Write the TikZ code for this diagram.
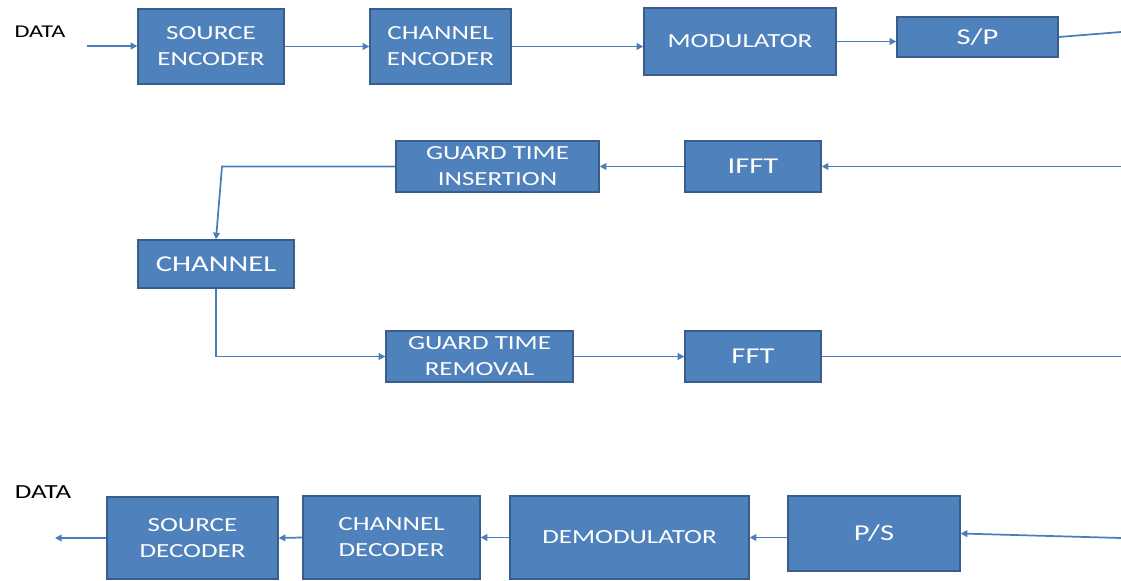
\documentclass[tikz,border=0pt]{standalone}
\usepackage{fontspec}
\setmainfont{Carlito}[FakeStretch=1.35]
\usetikzlibrary{arrows.meta}
\definecolor{boxfill}{HTML}{4F81BD}
\definecolor{boxdraw}{HTML}{385D8A}
\definecolor{wirecol}{HTML}{4A7EBB}
\newcommand\mybox[7][]{\node[blk,#1, minimum width={(#4-#2)*0.75pt}, minimum height={(#5-#3)*0.75pt}] (#6) at ({(#2+#4)/2},{(#3+#5)/2}) {#7};}
\begin{document}
\begin{tikzpicture}[x=0.75pt,y=-0.75pt,
  blk/.style={draw=boxdraw, line width=1pt, fill=boxfill, text=white, align=center,
    font=\fontsize{15}{19.5}\selectfont, inner sep=0pt},
  big/.style={font=\fontsize{17}{20}\selectfont},
  wire/.style={draw=wirecol, line width=1.3pt},
  arr/.style={wire, -{Triangle[length=5pt,width=5pt]}},
  lbl/.style={text=black, inner sep=0pt}]
\useasboundingbox (0,0) rectangle (1121,581);
% row 1
\node[lbl, font=\fontsize{13.5}{16}\selectfont] (d1) at (40,32) {DATA};
\mybox{138}{9}{284}{84}{se}{SOURCE\\ENCODER}
\mybox{370}{9}{511}{84}{ce}{CHANNEL\\ENCODER}
\mybox{644}{8}{836}{75}{mod}{MODULATOR}
\mybox[big]{897}{17}{1058}{57}{sp}{S/P}
\coordinate (din) at (87,46);
\coordinate (spout) at (1121,32);
\draw[arr] (din) -- (din -| se.west);
\draw[arr] (se.east) -- (ce.west);
\draw[arr] (ce.east) -- (ce.east -| mod.west);
\draw[arr] (mod.east) -- (mod.east -| sp.west);
\draw[wire] (sp.east) -- (spout);
% row 2
\mybox{396}{141}{599}{192}{gti}{GUARD TIME\\INSERTION}
\mybox[big]{685}{141}{821}{192}{ifft}{IFFT}
\mybox[big]{138}{240}{294}{288}{chan}{CHANNEL}
\mybox{386}{331}{573}{382}{gtr}{GUARD TIME\\REMOVAL}
\mybox[big]{685}{331}{821}{382}{fft}{FFT}
\coordinate (ifin) at (1121,166.5);
\coordinate (bend) at (222,166.5);
\coordinate (fftout) at (1121,356.5);
\draw[arr] (ifin) -- (ifft.east);
\draw[arr] (ifft.west) -- (gti.east);
\draw[arr] (gti.west) -- (bend) -- (chan.north);
\draw[arr] (chan.south) |- (gtr.west);
\draw[arr] (gtr.east) -- (fft.west);
\draw[wire] (fft.east) -- (fftout);
% row 3
\node[lbl, font=\fontsize{15}{18}\selectfont] (d2) at (43,492) {DATA};
\mybox{107}{497}{278}{579}{sd}{SOURCE\\DECODER}
\mybox{303}{496}{480}{579}{cd}{CHANNEL\\DECODER}
\mybox{510}{496}{749}{579}{dem}{DEMODULATOR}
\mybox[big]{788}{496}{960}{571}{ps}{P/S}
\coordinate (psin) at (1121,538);
\coordinate (dout) at (55,538);
\draw[arr] (psin) -- (ps.east);
\draw[arr] (dem.east -| ps.west) -- (dem.east);
\draw[arr] (dem.west) -- (cd.east);
\draw[arr] (cd.west) -- (sd.east);
\draw[arr] (sd.west) -- (dout);
\end{tikzpicture}
\end{document}
